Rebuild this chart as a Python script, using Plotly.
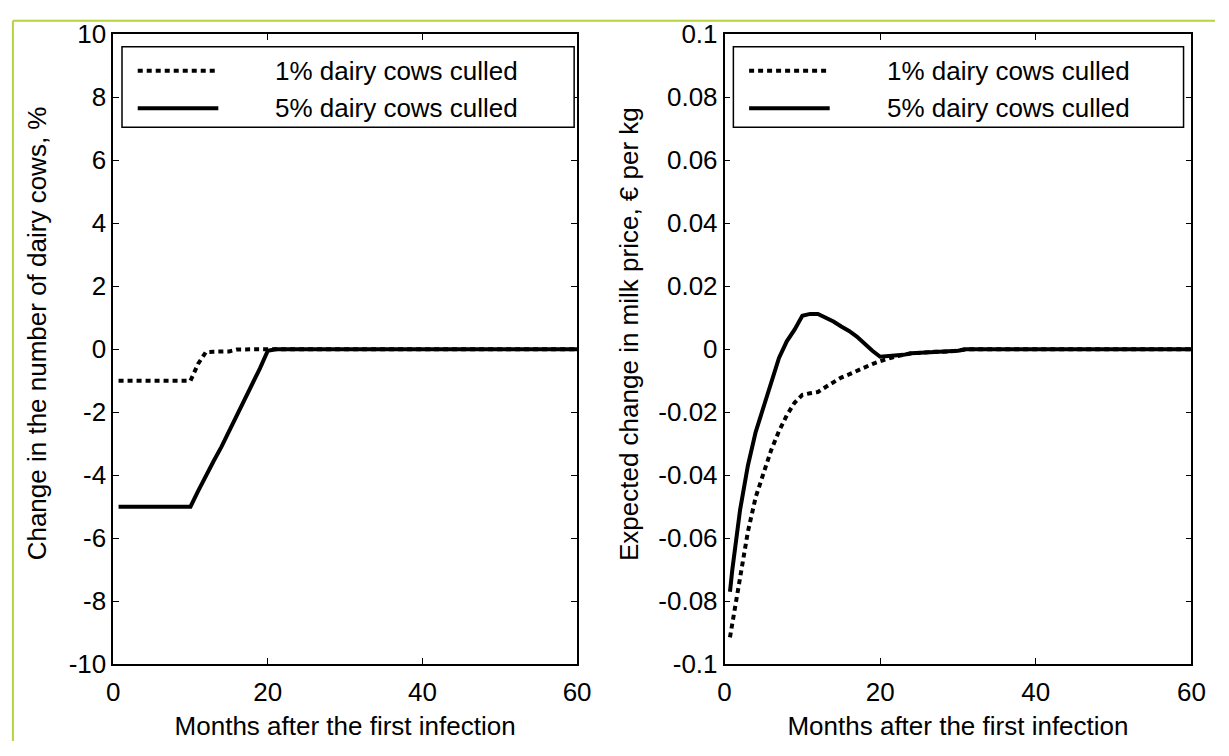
import plotly.graph_objects as go
from plotly.subplots import make_subplots

# ---- data -------------------------------------------------------------
months = [0.7] + list(range(1, 61))

# change in the number of dairy cows, %
cows_1pct = [-1, -1, -1, -1, -1, -1, -1, -1, -1, -1, -1,
             -0.46, -0.09, -0.08, -0.08, -0.07, -0.01] + [0] * 44
cows_5pct = [-5, -5, -5, -5, -5, -5, -5, -5, -5, -5, -5,
             -4.5, -4.0, -3.55, -3.1, -2.6, -2.15, -1.65, -1.15, -0.6, -0.05] + [0] * 40

# expected change in milk price, EUR per kg
price_1pct = [-0.0915, -0.087, -0.072, -0.058, -0.047, -0.039, -0.032, -0.026,
              -0.021, -0.017, -0.0145, -0.014, -0.0136, -0.012, -0.0105, -0.009,
              -0.008, -0.0068, -0.0057, -0.0047, -0.0038, -0.003, -0.0023,
              -0.0018, -0.0013, -0.0012, -0.0009, -0.0008, -0.0008, -0.0007,
              -0.0005] + [0] * 30
price_5pct = [-0.077, -0.070, -0.051, -0.037, -0.0263, -0.0183, -0.010, -0.0028,
              0.0025, 0.0062, 0.0106, 0.0112, 0.0112, 0.0100, 0.0088, 0.0072,
              0.0058, 0.0040, 0.0016, -0.0005, -0.0024, -0.0023, -0.0022,
              -0.0018, -0.0013, -0.0012, -0.0009, -0.0008, -0.0008, -0.0007,
              -0.0005] + [0] * 30

series_names = ["1% dairy cows culled", "5% dairy cows culled"]
x_title = "Months after the first infection"
y_title_left = "Change in the number of dairy cows, %"
y_title_right = "Expected change in milk price, € per kg"

x_ticks = [0, 20, 40, 60]
y_ticks_left = [-10, -8, -6, -4, -2, 0, 2, 4, 6, 8, 10]
y_ticks_right = [-0.1, -0.08, -0.06, -0.04, -0.02, 0, 0.02, 0.04, 0.06, 0.08, 0.1]

# ---- styling ----------------------------------------------------------
W, H = 1229, 756
FONT = "Liberation Sans, Arial, sans-serif"
TICK_SIZE = 26
TITLE_SIZE = 26
DOT = "5px,4px"
LW = 4

# plot areas in pixels: (left, right), (top, bottom)
left_px = (108, 580)
right_px = (730, 1205)
top_px, bottom_px = 20, 676

def xdom(px):
    return [px[0] / W, px[1] / W]

ydom = [1 - bottom_px / H, 1 - top_px / H]

def fmt(v):
    # plain hyphen for negatives, no trailing zeros
    return f"{v:g}"

fig = make_subplots(rows=1, cols=2)

panels = [
    (1, cows_1pct, cows_5pct),
    (2, price_1pct, price_5pct),
]
for col, s1, s5 in panels:
    fig.add_trace(go.Scatter(x=months, y=s1, mode="lines", name=series_names[0],
                             line=dict(color="black", width=LW, dash=DOT),
                             showlegend=False), row=1, col=col)
    fig.add_trace(go.Scatter(x=months, y=s5, mode="lines", name=series_names[1],
                             line=dict(color="black", width=LW),
                             showlegend=False), row=1, col=col)

axis_common = dict(
    showline=True, linecolor="black", linewidth=1.5, mirror="ticks",
    ticks="inside", ticklen=6, tickwidth=1, tickcolor="black",
    showgrid=False, zeroline=False,
    tickfont=dict(family=FONT, size=TICK_SIZE, color="black"),
)
title_font = dict(family=FONT, size=TITLE_SIZE, color="black")

fig.update_layout(
    xaxis=dict(domain=xdom(left_px), range=[0, 60], tickvals=x_ticks,
               ticktext=[fmt(v) for v in x_ticks], ticklabelstandoff=4,
               title=dict(text=x_title, font=title_font, standoff=11),
               **axis_common),
    xaxis2=dict(domain=xdom(right_px), range=[0, 60], tickvals=x_ticks,
                ticktext=[fmt(v) for v in x_ticks], ticklabelstandoff=4,
                title=dict(text=x_title, font=title_font, standoff=11),
                **axis_common),
    yaxis=dict(domain=ydom, range=[-10, 10], tickvals=y_ticks_left,
               ticktext=[fmt(v) for v in y_ticks_left],
               **axis_common),
    yaxis2=dict(domain=ydom, range=[-0.1, 0.1], tickvals=y_ticks_right,
                ticktext=[fmt(v) for v in y_ticks_right],
                **axis_common),
    width=W, height=H,
    margin=dict(l=0, r=0, t=0, b=0),
    paper_bgcolor="white", plot_bgcolor="white",
    showlegend=False,
)

# rotated y-axis titles
for text, cx, cy in [(y_title_left, 30, 331), (y_title_right, 633, 332)]:
    fig.add_annotation(xref="paper", yref="paper", x=cx / W, y=1 - cy / H,
                       text=text, textangle=-90, showarrow=False,
                       xanchor="center", yanchor="middle", font=title_font)

# ---- legend boxes drawn inside each panel ----------------------------
def add_legend(xaxis_name, px):
    span = px[1] - px[0]
    fx = lambda p: (p - px[0]) / span
    fy = lambda p: (bottom_px - p) / (bottom_px - top_px)
    xref = f"{xaxis_name} domain"
    yref = "y domain" if xaxis_name == "x" else "y2 domain"
    off = px[0] - left_px[0]
    fig.add_shape(type="rect", xref=xref, yref=yref,
                  x0=fx(117 + off), x1=fx(px[1] - 3 - (off and 5)), y0=fy(117), y1=fy(33),
                  line=dict(color="black", width=1.5), fillcolor="white", layer="above")
    for row_y, name, dash in [(58, series_names[0], DOT), (97, series_names[1], "solid")]:
        fig.add_shape(type="line", xref=xref, yref=yref,
                      x0=fx(133 + off), x1=fx(215 + off), y0=fy(row_y), y1=fy(row_y),
                      line=dict(color="black", width=LW, dash=dash), layer="above")
        fig.add_annotation(xref=xref, yref=yref, x=fx(271 + off), y=fy(row_y),
                           text=name, showarrow=False, xanchor="left", yanchor="middle",
                           font=title_font)

add_legend("x", left_px)
add_legend("x2", right_px)

# thin frame along the top and left page edges
fig.add_shape(type="line", xref="paper", yref="paper", x0=6 / W, x1=1, y0=1 - 6 / H, y1=1 - 6 / H,
              line=dict(color="#b5d33d", width=2))
fig.add_shape(type="line", xref="paper", yref="paper", x0=6 / W, x1=6 / W, y0=0, y1=1 - 6 / H,
              line=dict(color="#b5d33d", width=2))

fig.write_html("out.html")
